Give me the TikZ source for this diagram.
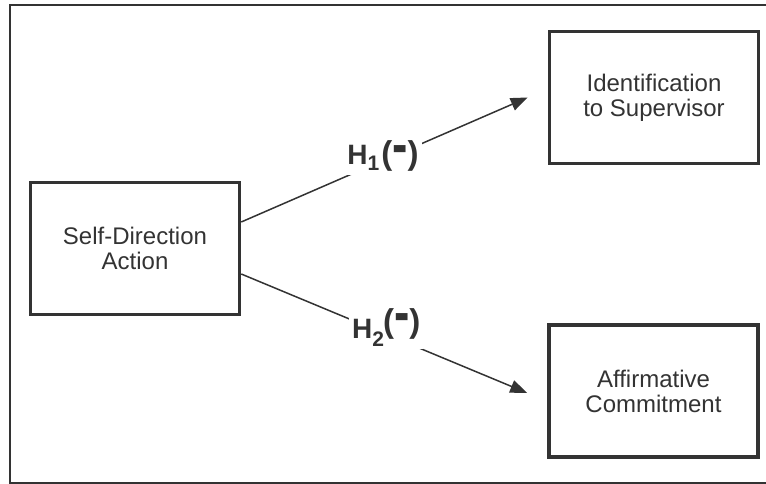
\documentclass[tikz,border=0pt]{standalone}
\usepackage{fontspec}
\setmainfont{Liberation Sans}
\usepackage{color}
\usetikzlibrary{arrows.meta}
\definecolor{ink}{HTML}{333333}

\begin{document}
\begin{tikzpicture}[x=1pt, y=1pt,
	construct/.style={draw=ink, line width=3.5pt, minimum width=209pt, minimum height=132pt, text=ink, align=center, font=\fontsize{24}{25}\selectfont},
	link/.style={draw=ink, line width=1.5pt, -{Triangle[length=17pt,width=13pt]}},
	hyp/.style={fill=white, text=ink, inner sep=3pt, font=\fontsize{28}{30}\bfseries\selectfont}]
	\useasboundingbox (0,0) rectangle (766,484);
	\draw[ink, line width=2pt] (10,1) rectangle (768,479);
	\node[construct] (sda) at (135,235.5) {Self-Direction\\Action};
	\node[construct] (ident) at (654,386.5) {Identification\\to Supervisor};
	\node[construct] (aff) at (653.5,93) {Affirmative\\Commitment};
	\draw[link] ([yshift=26.5pt]sda.east) -- node[hyp, pos=0.495, yshift=4pt] {H\raisebox{-6pt}{\fontsize{21}{21}\selectfont 1}\hspace{2pt}{\fontsize{33}{33}\selectfont(\scalebox{1.4}[1.8]{-})}} ([xshift=-20pt]ident.west);
	\draw[link] ([yshift=-25.5pt]sda.east) -- node[hyp, pos=0.507, yshift=7pt] {H\raisebox{-8pt}{\fontsize{21}{21}\selectfont 2}\hspace{-1pt}\raisebox{6pt}{\fontsize{33}{33}\selectfont(\scalebox{1.4}[1.8]{-})}} ([xshift=-20pt, yshift=-2pt]aff.west);
%	\node (note) at (380,20) {};
\end{tikzpicture}
\end{document}
